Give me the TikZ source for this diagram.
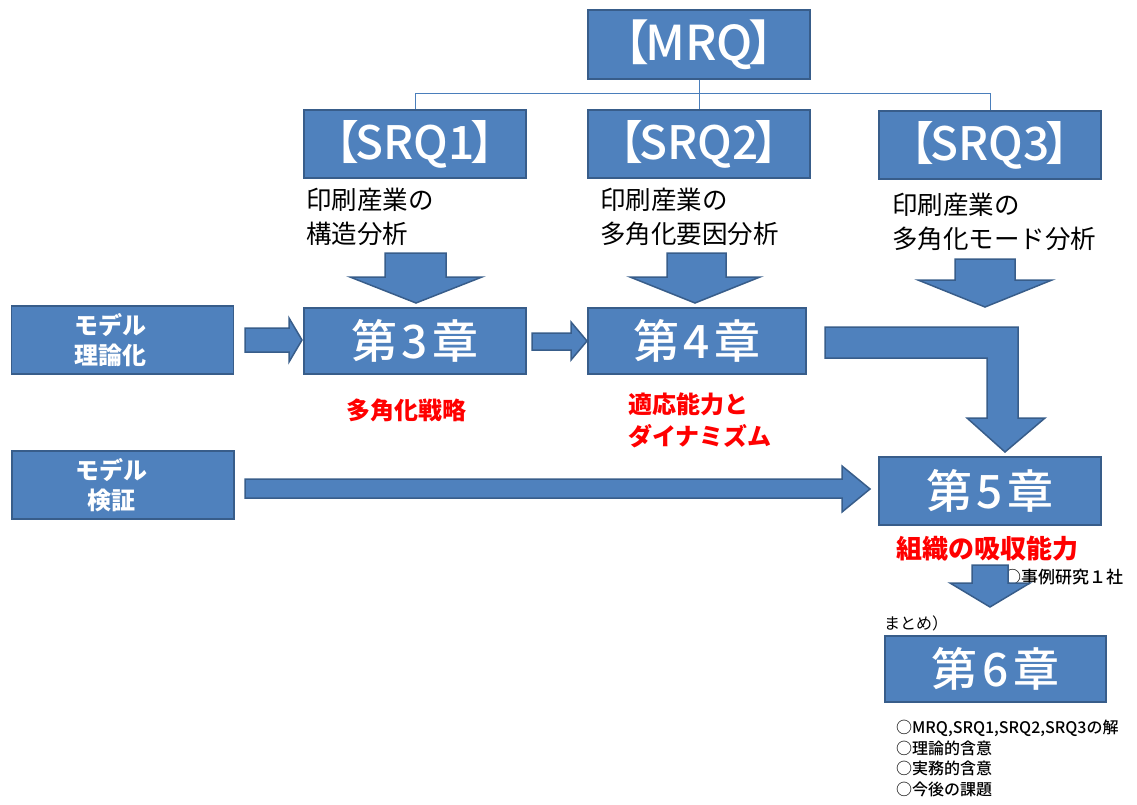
\documentclass[tikz,border=0pt]{standalone}
\usepackage{fontspec}
\setmainfont{Noto Sans CJK JP}
\newfontfamily\medium{Noto Sans CJK JP Medium}
\definecolor{boxfill}{HTML}{4F81BD}
\definecolor{boxdraw}{HTML}{385D8A}
\definecolor{linec}{HTML}{4A7EBB}
\definecolor{redtxt}{HTML}{FF0000}
\newcommand{\fs}[2]{\fontsize{#1}{#2}\selectfont}
\newcommand{\brk}[1]{\hspace*{-.5em}【\kern-.08em#1\kern-.08em】\hspace*{-.5em}}
\newcommand{\chp}[1]{第\kern.1em#1\kern.1em章}
\begin{document}
\begin{tikzpicture}[x=1pt,y=-1pt,
  box/.style={draw=boxdraw, fill=boxfill, line width=1.8pt, text=white, inner sep=0pt, minimum width=222pt, minimum height=68pt},
  head/.style={box, font=\medium\fs{46}{50}},
  side/.style={box, font=\bfseries\fs{24}{30}, align=center},
  blk/.style={draw=boxdraw, fill=boxfill, line width=1.5pt, line join=miter},
  desc/.style={anchor=west, align=left, inner sep=0pt, font=\fs{25.5}{34}},
  red/.style={text=redtxt, inner sep=0pt, font=\bfseries\fs{24}{32}},
  small/.style={inner sep=0pt, anchor=west, font=\fs{16}{20.5}, align=left},
  conn/.style={draw=linec, line width=1pt}]
\useasboundingbox (0,0) rectangle (1137,805);
% top row
\node[head, font=\medium\fs{48}{52}, minimum height=69pt] (mrq) at (699,44.5) {\brk{MRQ}};
\node[head] (srq1) at (415,144) {\brk{SRQ1}};
\node[head] (srq2) at (699,144) {\brk{SRQ2}};
\node[head] (srq3) at (990,145) {\brk{SRQ3}};
\path[conn] (mrq.south) -- (srq2.north);
\path[conn] (srq1.north) -- ++(0,-16) -| (srq3.north);
% descriptions
\node[desc] (d1) at (306,217) {印刷産業の\\構造分析};
\node[desc] (d2) at (600,217) {印刷産業の\\多角化要因分析};
\node[desc] (d3) at (892,222) {印刷産業の\\多角化モード分析};
% down arrows from SRQs
\path[blk] (385,253) -- (446,253) -- (446,277) -- (482,277) -- (416,303) -- (350,277) -- (385,277) -- cycle;
\path[blk] (667,253) -- (726,253) -- (726,277) -- (760,277) -- (695,303) -- (630,277) -- (667,277) -- cycle;
\path[blk] (955,259) -- (1015,259) -- (1015,280) -- (1052,280) -- (985,307) -- (918,280) -- (955,280) -- cycle;
% chapter row
\node[side] (m1) at (122.5,340) {\hspace*{-24pt}モデル\\\hspace*{-24pt}理論化};
\node[head, minimum height=66pt] (ch3) at (415,341) {\chp{3}};
\node[head, minimum height=66pt, minimum width=218pt] (ch4) at (697,341) {\chp{4}};
\path[blk] (245,328) -- (289,328) -- (289,318) -- (302,340) -- (289,362) -- (289,352) -- (245,352) -- cycle;
\path[blk] (532,333) -- (571,333) -- (571,322) -- (587,341) -- (571,360) -- (571,350) -- (532,350) -- cycle;
% bent arrow
\path[blk] (825,327) -- (1018,327) -- (1018,418) -- (1045,418) -- (1005,452) -- (967,418) -- (987,418) -- (987,358) -- (825,358) -- cycle;
\node[red] (r3) at (406,410) {多角化戦略};
\node[red, anchor=west, align=left] (r4) at (628,420) {適応能力と\\ダイナミズム};
% model verification row
\node[side] (m2) at (123,485) {\hspace*{-24pt}モデル\\\hspace*{-24pt}検証};
\node[head] (ch5) at (990,491) {\chp{5}};
\path[blk] (245,479) -- (842,479) -- (842,466) -- (870,489) -- (842,512) -- (842,498) -- (245,498) -- cycle;
\node[red, font=\bfseries\fs{26}{30}] (r5) at (987,549) {組織の吸収能力};
\node[small, font=\medium\fs{17}{20}] (case) at (1004,577) {○事例研究１社};
\path[blk] (972,565) -- (1008,565) -- (1008,583) -- (1030,583) -- (990,607) -- (950,583) -- (972,583) -- cycle;
\node[small] (sum) at (884,623) {まとめ）};
\node[head, minimum height=66pt, minimum width=221pt] (ch6) at (995.5,669) {\chp{6}};
\node[small, font=\medium\fs{16}{20.5}, anchor=north west] (list) at (896,720) {○MRQ,SRQ1,SRQ2,SRQ3の解\\○理論的含意\\○実務的含意\\○今後の課題};
\end{tikzpicture}
\end{document}
